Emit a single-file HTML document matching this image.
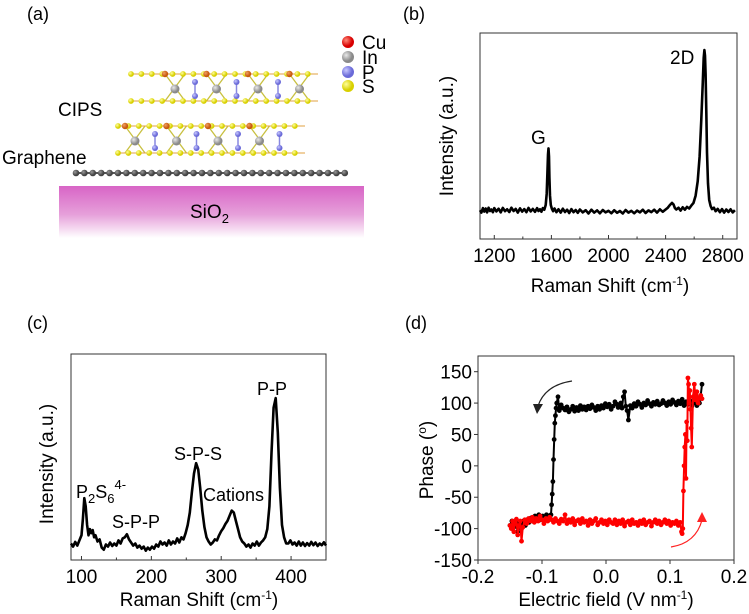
<!DOCTYPE html>
<html><head><meta charset="utf-8"><style>
body{margin:0;background:#fff;}
svg{display:block;font-family:"Liberation Sans",Arial,sans-serif;}
</style></head><body>
<svg id="fig" width="749" height="614" viewBox="0 0 749 614">
<defs>
<linearGradient id="sio2g" x1="0" y1="0" x2="0" y2="1">
<stop offset="0" stop-color="#d865c6"/><stop offset="0.55" stop-color="#e6a0da"/><stop offset="1" stop-color="#ffffff"/>
</linearGradient>
<radialGradient id="gCu" cx="0.35" cy="0.35"><stop offset="0" stop-color="#ff8a7a"/><stop offset="1" stop-color="#d80000"/></radialGradient>
<radialGradient id="gIn" cx="0.35" cy="0.35"><stop offset="0" stop-color="#e8e8e8"/><stop offset="1" stop-color="#8a8a8a"/></radialGradient>
<radialGradient id="gP" cx="0.35" cy="0.35"><stop offset="0" stop-color="#c8c8ff"/><stop offset="1" stop-color="#6a6ad8"/></radialGradient>
<radialGradient id="gS" cx="0.35" cy="0.35"><stop offset="0" stop-color="#ffff9a"/><stop offset="1" stop-color="#d8d000"/></radialGradient>
<radialGradient id="gCuo" cx="0.35" cy="0.35"><stop offset="0" stop-color="#f0a060"/><stop offset="1" stop-color="#c85a10"/></radialGradient>
<radialGradient id="gC" cx="0.35" cy="0.35"><stop offset="0" stop-color="#9a9a9a"/><stop offset="1" stop-color="#444"/></radialGradient>
</defs>

<g>
<text x="27" y="20" font-size="18">(a)</text>
<rect x="59" y="186" width="305" height="52" fill="url(#sio2g)"/>
<text x="190" y="218" font-size="19">SiO<tspan font-size="13" dy="5">2</tspan></text>
<text x="58" y="116" font-size="19">CIPS</text>
<text x="2" y="164" font-size="19">Graphene</text>
<g id="atoms"></g>
<g>
<circle cx="348" cy="42" r="6" fill="url(#gCu)"/>
<text x="362" y="49" font-size="19">Cu</text>
<circle cx="348" cy="57" r="6" fill="url(#gIn)"/>
<text x="362" y="64" font-size="19">In</text>
<circle cx="348" cy="72" r="6" fill="url(#gP)"/>
<text x="362" y="79" font-size="19">P</text>
<circle cx="348" cy="86" r="6" fill="url(#gS)"/>
<text x="362" y="93" font-size="19">S</text>
</g>
</g>

<g>
<text x="403" y="20" font-size="18">(b)</text>
<g id="pb"></g>
</g>
<g>
<text x="27" y="329" font-size="18">(c)</text>
<g id="pc"></g>
</g>
<g>
<text x="405" y="329" font-size="18">(d)</text>
<g id="pd"></g>
</g>
</svg>
<script>
// ---- Panel b data ----
var bX = [1100,1110,1120,1130,1140,1150,1160,1170,1180,1190,1200,1215,1230,1245,1260,1275,1290,1305,1320,1335,1350,1365,1380,1395,1410,1425,1440,1455,1470,1485,1500,1510,1520,1530,1540,1550,1560,1567,1572,1576,1580,1583,1586,1590,1596,1603,1612,1622,1635,1650,1665,1680,1695,1710,1725,1740,1755,1770,1785,1800,1820,1840,1860,1880,1900,1920,1940,1960,1980,2000,2020,2040,2060,2080,2100,2120,2140,2160,2180,2200,2220,2240,2260,2280,2300,2320,2340,2360,2380,2400,2415,2430,2445,2455,2465,2475,2490,2505,2520,2535,2550,2565,2580,2595,2610,2625,2638,2650,2660,2667,2672,2676,2680,2685,2690,2697,2705,2715,2725,2738,2750,2765,2780,2795,2810,2825,2840,2855,2870,2885,2900];
var bY = [14,12.8,15,13.3,14.8,12.9,15.2,13.6,14.3,13,15,13.4,14.7,12.9,15.1,13.5,14.4,13.1,15.2,13.6,14.6,12.8,14.9,13.3,14.5,13,15.1,13.4,14.6,13.2,15,13.6,14.4,13.2,15,14.2,16.5,22,32,41,44,40,30,21,16.5,14.8,13.5,14.8,13,14.4,12.8,14.7,13.1,14.2,12.6,14.5,13,14.1,12.7,14.3,12.9,14,12.4,14.2,12.8,13.9,12.5,14.1,12.9,13.7,12.5,14,12.7,13.6,12.4,14.1,12.8,13.7,12.5,13.8,12.9,14.2,12.6,13.9,13,14.2,12.8,14.4,13.2,14.3,15.2,16.5,17.5,16.8,15,14.3,15.2,13.8,15.4,14.2,15.6,14.8,16.2,17.5,21,28,40,58,75,88,91.7,89,80,62,42,27,19,16,14.5,15.2,13.5,14.6,13,14.5,12.8,14.3,13.1,14.4,12.9,14];
var bTicks = [1200,1600,2000,2400,2800];
// ---- Panel c data ----
var cX = [85,88,91,94,97,100,102,104,106,108,110,112,114,116,118,120,123,126,129,132,135,138,141,144,147,150,153,156,159,162,165,168,171,174,177,180,183,186,189,192,195,198,201,204,207,210,213,216,219,222,225,228,231,234,237,240,243,246,249,252,255,258,261,264,267,270,273,276,279,282,285,288,291,294,297,300,303,306,309,312,315,318,321,324,327,330,333,336,339,342,345,348,351,354,357,360,363,366,369,372,375,378,381,384,387,390,393,396,399,402,405,408,411,414,417,420,423,426,429,432,435,438,441,444,447,450];
var cY = [8,6.5,8.8,7,9.5,12,20,30,26,17,12,15,13,14.5,11,12,9,10,6,5,7.5,6.5,8.5,6.8,8,7,9.5,8,10.5,11,12.5,10,8.5,7,8,6,7,5.5,6.5,4.5,6,5,6.5,5.5,7.5,6.5,9,7.5,8.5,7,9.5,7.5,9,8,10.5,8.5,11,10,13,17,23,33,42,47,44,35,24,16,11,9,7.5,8.5,10,9.5,12,14,15.5,17.5,19,21.5,24,23,19,15,11,9,8,6.5,7.5,6,8,7,9,7,8.5,9.5,11,15,26,52,74,78.6,62,35,17,11,8,8,9.5,7.5,8.5,7,9,7,8.5,6.8,8.2,7,8.8,7.2,8.5,6.8,8,7.2,8.6,7,8.2,7.5];
var cTicks = [100,200,300,400];
// ---- Panel d data ----
var dBlackX = [0.150,0.148,0.146,0.144,0.142,0.140,0.137,0.134,0.131,0.128,0.125,0.122,0.119,0.116,0.113,0.110,0.107,0.104,0.101,0.098,0.095,0.092,0.089,0.086,0.083,0.080,0.077,0.074,0.071,0.068,0.065,0.062,0.059,0.056,0.053,0.050,0.047,0.044,0.041,0.038,0.035,0.033,0.031,0.029,0.027,0.025,0.023,0.021,0.019,0.017,0.014,0.011,0.008,0.005,0.002,-0.001,-0.004,-0.007,-0.010,-0.013,-0.016,-0.019,-0.022,-0.025,-0.028,-0.031,-0.034,-0.037,-0.040,-0.043,-0.046,-0.049,-0.052,-0.055,-0.058,-0.061,-0.064,-0.067,-0.070,-0.073,-0.075,-0.077,-0.078,-0.079,-0.080,-0.081,-0.082,-0.083,-0.084,-0.085,-0.086,-0.088,-0.090,-0.093,-0.096,-0.099,-0.102,-0.105,-0.108,-0.111,-0.114,-0.117,-0.120,-0.123,-0.126,-0.129,-0.132,-0.135,-0.138,-0.141,-0.144,-0.147,-0.150];
var dBlackY = [130,112,100,105,96,108,100,95,104,98,102,96,106,99,103,97,101,105,98,102,96,100,104,99,97,103,98,101,95,99,104,97,100,93,98,102,95,99,92,96,73,88,95,118,110,92,100,97,93,98,102,95,90,98,94,99,92,96,90,95,88,93,97,91,95,89,94,90,96,88,93,87,95,90,86,94,89,92,97,88,110,100,92,80,68,42,10,-25,-45,-62,-78,-82,-80,-78,-84,-80,-86,-78,-85,-80,-88,-83,-90,-86,-95,-88,-100,-92,-105,-90,-98,-88,-95];
var dRedX = [-0.150,-0.148,-0.146,-0.144,-0.142,-0.140,-0.138,-0.136,-0.134,-0.132,-0.130,-0.127,-0.124,-0.121,-0.118,-0.115,-0.112,-0.109,-0.106,-0.103,-0.100,-0.097,-0.094,-0.091,-0.088,-0.085,-0.082,-0.079,-0.076,-0.073,-0.070,-0.067,-0.064,-0.061,-0.058,-0.055,-0.052,-0.049,-0.046,-0.043,-0.040,-0.037,-0.034,-0.031,-0.028,-0.025,-0.022,-0.019,-0.016,-0.013,-0.010,-0.007,-0.004,-0.001,0.002,0.005,0.008,0.011,0.014,0.017,0.020,0.023,0.026,0.029,0.032,0.035,0.038,0.041,0.044,0.047,0.050,0.053,0.056,0.059,0.062,0.065,0.068,0.071,0.074,0.077,0.080,0.083,0.086,0.089,0.092,0.095,0.098,0.101,0.104,0.107,0.110,0.113,0.116,0.118,0.119,0.120,0.121,0.122,0.123,0.124,0.125,0.126,0.127,0.128,0.129,0.130,0.131,0.132,0.133,0.134,0.136,0.138,0.140,0.142,0.144,0.146,0.148,0.150];
var dRedY = [-95,-100,-88,-105,-92,-85,-110,-95,-88,-120,-98,-86,-92,-84,-88,-82,-90,-84,-88,-80,-86,-92,-84,-88,-82,-86,-90,-84,-88,-92,-85,-88,-78,-92,-86,-90,-84,-94,-88,-86,-92,-84,-90,-88,-95,-86,-92,-88,-84,-94,-90,-86,-92,-88,-94,-86,-90,-92,-86,-94,-88,-92,-86,-96,-90,-88,-94,-86,-92,-90,-95,-88,-92,-86,-94,-90,-88,-96,-90,-86,-92,-88,-94,-90,-86,-92,-88,-95,-90,-92,-88,-95,-90,-105,-108,-100,-40,0,30,50,-20,70,40,140,130,100,120,90,60,30,110,130,105,118,100,108,112,107];
var dXTicks = [-0.2,-0.1,0.0,0.1,0.2];
var dXTickLabels = ["-0.2","-0.1","0.0","0.1","0.2"];
var dYTicks = [150,100,50,0,-50,-100,-150];

var NS="http://www.w3.org/2000/svg";
function mk(tag,attrs,parent){var e=document.createElementNS(NS,tag);for(var k in attrs)e.setAttribute(k,attrs[k]);parent.appendChild(e);return e;}
function lin(d0,d1,r0,r1){return function(v){return r0+(v-d0)/(d1-d0)*(r1-r0);};}

(function(){
var g=document.getElementById('atoms');
var gl=mk('line',{x1:76,y1:173,x2:346,y2:173,stroke:'#555','stroke-width':2},g);


for(var x=76;x<=346;x+=8.4){var c=mk('circle',{cx:x,cy:173,r:3.3,fill:'url(#gC)'},g);

}
function layer(x0,x1,yt,ym,yb,offset){
  var L=mk('g',{},g);
  
  
  var cols=[];
  for(var x=x0;x<=x1;x+=41.5){var xi=x+offset; if(xi<=x1-8) cols.push(xi);}
  cols.forEach(function(xi){
    var xp=xi+20;
    mk('line',{x1:xi-10,y1:yt,x2:xi+10,y2:yb,stroke:'#c8c040','stroke-width':1.3},L);
    mk('line',{x1:xi+10,y1:yt,x2:xi-10,y2:yb,stroke:'#c8c040','stroke-width':1.3},L);
    if(xp<x1-5) mk('line',{x1:xp,y1:ym-7,x2:xp,y2:ym+7,stroke:'#8888e0','stroke-width':1.5},L);
  });
  mk('line',{x1:x0,y1:yt,x2:x1,y2:yt,stroke:'#e0a040','stroke-width':1},L);
  mk('line',{x1:x0,y1:yb,x2:x1,y2:yb,stroke:'#e0a040','stroke-width':1},L);
  for(var x=x0;x<=x1;x+=10.4){mk('circle',{cx:x,cy:yt,r:2.9,fill:'url(#gS)'},L);mk('circle',{cx:x,cy:yb,r:2.9,fill:'url(#gS)'},L);}
  cols.forEach(function(xi){
    var xp=xi+20;
    mk('circle',{cx:xi,cy:ym,r:4.5,fill:'url(#gIn)'},L);
    if(xp<x1-5){mk('circle',{cx:xp,cy:ym-7,r:3,fill:'url(#gP)'},L);
    mk('circle',{cx:xp,cy:ym+7,r:3,fill:'url(#gP)'},L);}
    mk('circle',{cx:xi-10,cy:yt,r:3.2,fill:'url(#gCuo)'},L);
  });
}
layer(131,318,74,89,101,44);
layer(118,305,126,141,153,17);
})();

(function(){
var g=document.getElementById('pb');
var L=480,R=737,T=33,B=239;
var sx=lin(1100,2900,L,R), sy=lin(0,100,B,T);
var fr=mk('rect',{x:L,y:T,width:R-L,height:B-T,fill:'none',stroke:'#333','stroke-width':1},g);


for(var v=1200;v<=2800;v+=200){mk('line',{x1:sx(v),y1:B,x2:sx(v),y2:B-(v%400==0?4:2.5),stroke:'#333'},g);}
bTicks.forEach(function(t){var e=mk('text',{x:sx(t),y:B+23,'font-size':19,'text-anchor':'middle'},g);e.textContent=t;

});
var pts=bX.map(function(x,i){return sx(x).toFixed(1)+','+sy(bY[i]).toFixed(1);}).join(' ');
var p=mk('polyline',{points:pts,fill:'none',stroke:'#000','stroke-width':2.6,'stroke-linejoin':'round'},g);


var t1=mk('text',{x:531,y:144,'font-size':19},g);t1.textContent='G';


var t2=mk('text',{x:670,y:64,'font-size':19},g);t2.textContent='2D';


var xt=mk('text',{x:610,y:292,'font-size':19,'text-anchor':'middle'},g);xt.innerHTML='Raman Shift (cm<tspan font-size="12" dy="-7">-1</tspan><tspan dy="7">)</tspan>';


var yt=mk('text',{x:0,y:0,'font-size':19,'text-anchor':'middle',transform:'translate(453,136) rotate(-90)'},g);yt.textContent='Intensity (a.u.)';


})();

(function(){
var g=document.getElementById('pc');
var L=71,R=326,T=354,B=560;
var sx=lin(85,450,L,R), sy=lin(0,100,B,T);
var fr=mk('rect',{x:L,y:T,width:R-L,height:B-T,fill:'none',stroke:'#333','stroke-width':1},g);


for(var v=100;v<=450;v+=50){mk('line',{x1:sx(v),y1:B,x2:sx(v),y2:B-(v%100==0?4:2.5),stroke:'#333'},g);}
cTicks.forEach(function(t){var e=mk('text',{x:sx(t),y:B+23,'font-size':19,'text-anchor':'middle'},g);e.textContent=t;

});
var pts=cX.map(function(x,i){return sx(x).toFixed(1)+','+sy(cY[i]).toFixed(1);}).join(' ');
var p=mk('polyline',{points:pts,fill:'none',stroke:'#000','stroke-width':2.6,'stroke-linejoin':'round'},g);


var labs=[['P<tspan font-size="13" dy="5">2</tspan><tspan dy="-5">S</tspan><tspan font-size="13" dy="5">6</tspan><tspan font-size="13" dy="-14">4-</tspan>',76,498,'peak-label-p2s6'],['S-P-P',112,528,'peak-label-spp'],['S-P-S',174,460,'peak-label-sps'],['Cations',203,501,'peak-label-cations'],['P-P',257,395,'peak-label-pp']];
labs.forEach(function(l){var e=mk('text',{x:l[1],y:l[2],'font-size':18},g);e.innerHTML=l[0];

});
var xt=mk('text',{x:199,y:606,'font-size':19,'text-anchor':'middle'},g);xt.innerHTML='Raman Shift (cm<tspan font-size="12" dy="-7">-1</tspan><tspan dy="7">)</tspan>';


var yt=mk('text',{x:0,y:0,'font-size':19,'text-anchor':'middle',transform:'translate(53,464) rotate(-90)'},g);yt.textContent='Intensity (a.u.)';


})();

(function(){
var g=document.getElementById('pd');
var L=478,R=734,T=356,B=560;
var sx=lin(-0.2,0.2,L,R), sy=lin(-150,175,B,T);
var fr=mk('rect',{x:L,y:T,width:R-L,height:B-T,fill:'none',stroke:'#333','stroke-width':1},g);


dXTicks.forEach(function(t,i){mk('line',{x1:sx(t),y1:B,x2:sx(t),y2:B+4,stroke:'#333'},g);
var e=mk('text',{x:sx(t),y:B+23,'font-size':19,'text-anchor':'middle'},g);e.textContent=dXTickLabels[i];

});
dYTicks.forEach(function(t){mk('line',{x1:L,y1:sy(t),x2:L-4,y2:sy(t),stroke:'#333'},g);
var e=mk('text',{x:L-6,y:sy(t)+7,'font-size':19,'text-anchor':'end'},g);e.textContent=t;

});
function series(X,Y,col,name){
  var s=mk('g',{},g);
  
  
  var pts=X.map(function(x,i){return sx(x).toFixed(1)+','+sy(Y[i]).toFixed(1);}).join(' ');
  mk('polyline',{points:pts,fill:'none',stroke:col,'stroke-width':2,'stroke-linejoin':'round'},s);
  X.forEach(function(x,i){mk('circle',{cx:sx(x),cy:sy(Y[i]),r:2.4,fill:col},s);});
}
series(dBlackX,dBlackY,'#000','phase-loop-black');
series(dRedX,dRedY,'#f00','phase-loop-red');
var a1=mk('path',{d:'M572,381 Q545,385 538,406',fill:'none',stroke:'#222','stroke-width':1.2},g);


mk('polygon',{points:'533,404 543,404 537,414',fill:'#222'},g);
var a2=mk('path',{d:'M671,547 Q696,543 702,520',fill:'none',stroke:'#f22','stroke-width':1.2},g);


mk('polygon',{points:'697,522 707,522 702,512',fill:'#f22'},g);
var xt=mk('text',{x:606,y:606,'font-size':19,'text-anchor':'middle'},g);xt.innerHTML='Electric field (V nm<tspan font-size="12" dy="-7">-1</tspan><tspan dy="7">)</tspan>';


var yt=mk('text',{x:0,y:0,'font-size':19,'text-anchor':'middle',transform:'translate(433,460) rotate(-90)'},g);yt.innerHTML='Phase (<tspan font-size="12" dy="-7">o</tspan><tspan dy="7">)</tspan>';


})();
</script>
</body></html>
